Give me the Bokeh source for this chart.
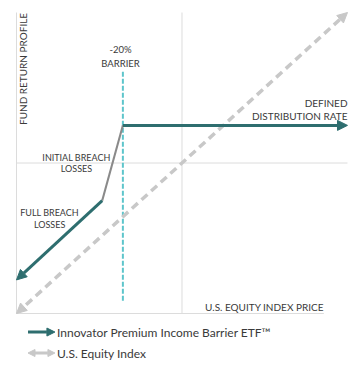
import math
from bokeh.plotting import figure
from bokeh.models import Arrow, NormalHead, Label
from bokeh.embed import file_html
from bokeh.resources import INLINE

# ---- schematic data (percent units) ----
axis_extent = 56                     # axes run from -56 to +56 on both scales
barrier_level = -20
barrier_line_y = [34, -52]
distribution_rate = 14
cap_x = [-20, 56]
initial_breach_x = [-20, -27]
initial_breach_y = [14, -14]
full_breach_x = [-27, -56]
full_breach_y = [-14, -43.5]
index_x = [-56, 56]
index_y = [-56, 56]
bottom_axis_end = 48

TEAL = "#2e6e6f"
CYAN = "#5ec5cb"
GRAY_DASH = "#c8c8c8"
GRAY_LINE = "#8a8a8a"
FRAME = "#dcdcdc"
TXT = "#3a3a3a"
FONT = "Lato"

p = figure(width=355, height=370, x_range=(-61.41, 58.71), y_range=(-77.21, 60.47),
           min_border=0, toolbar_location=None, output_backend="svg")
p.axis.visible = False
p.grid.visible = False
p.outline_line_color = None
p.background_fill_color = "white"

e = axis_extent
# frame / axis lines
p.segment(x0=[-e, -e, -e, 0], y0=[-e, -e, 0, -e], x1=[-e, bottom_axis_end, e, 0], y1=[e, -e, 0, e],
          line_color=FRAME, line_width=1)

# barrier line
p.segment(x0=[barrier_level], y0=[barrier_line_y[0]], x1=[barrier_level], y1=[barrier_line_y[1]],
          line_color=CYAN, line_width=2, line_dash="5 2")

# equity index (double arrow, dashed)
p.add_layout(Arrow(x_start=index_x[0], y_start=index_y[0], x_end=index_x[1], y_end=index_y[1],
                   line_color=GRAY_DASH, line_width=3.5, line_dash="8 5",
                   start=NormalHead(size=10, fill_color=GRAY_DASH, line_color=GRAY_DASH),
                   end=NormalHead(size=10, fill_color=GRAY_DASH, line_color=GRAY_DASH)))

# initial breach
p.line(initial_breach_x, initial_breach_y, line_color=GRAY_LINE, line_width=2)

# cap line
p.add_layout(Arrow(x_start=cap_x[0], y_start=distribution_rate, x_end=cap_x[1], y_end=distribution_rate,
                   line_color=TEAL, line_width=3,
                   end=NormalHead(size=10, fill_color=TEAL, line_color=TEAL)))
# full breach
p.add_layout(Arrow(x_start=full_breach_x[0], y_start=full_breach_y[0], x_end=full_breach_x[1], y_end=full_breach_y[1],
                   line_color=TEAL, line_width=3,
                   end=NormalHead(size=10, fill_color=TEAL, line_color=TEAL)))

def lab(x, y, t, align="center", size="10px", angle=0.0):
    p.add_layout(Label(x=x, y=y, text=t, text_align=align, text_baseline="middle",
                       text_font=FONT, text_font_size=size, text_color=TXT, angle=angle))

lab(-53.8, 35.0, "FUND RETURN PROFILE", angle=math.pi / 2)
lab(-20.8, 42.4, "-20%", size="9.5px")
lab(-20.8, 37.2, "BARRIER", size="9.5px")
lab(56, 22.3, "DEFINED", align="right")
lab(56, 17.5, "DISTRIBUTION RATE", align="right")
lab(-35.7, 2.2, "INITIAL BREACH", size="9px")
lab(-35.7, -2.2, "LOSSES", size="9px")
lab(-44.8, -18.6, "FULL BREACH", size="9px")
lab(-44.8, -22.9, "LOSSES", size="9px")
lab(48, -53.6, "U.S. EQUITY INDEX PRICE", align="right")

# legend
leg_x = [-52.1, -43.0]
leg_y = [-62.9, -70.7]
p.add_layout(Arrow(x_start=leg_x[0], y_start=leg_y[0], x_end=leg_x[1], y_end=leg_y[0],
                   line_color=TEAL, line_width=3,
                   end=NormalHead(size=8, fill_color=TEAL, line_color=TEAL)))
p.add_layout(Arrow(x_start=leg_x[0], y_start=leg_y[1], x_end=leg_x[1], y_end=leg_y[1],
                   line_color=GRAY_DASH, line_width=3,
                   start=NormalHead(size=7, fill_color=GRAY_DASH, line_color=GRAY_DASH),
                   end=NormalHead(size=7, fill_color=GRAY_DASH, line_color=GRAY_DASH)))
lab(-42.3, leg_y[0], "Innovator Premium Income Barrier ETF\u2122", align="left", size="12px")
lab(-42.3, leg_y[1], "U.S. Equity Index", align="left", size="12px")

open("out.html", "w").write(file_html(p, INLINE))
